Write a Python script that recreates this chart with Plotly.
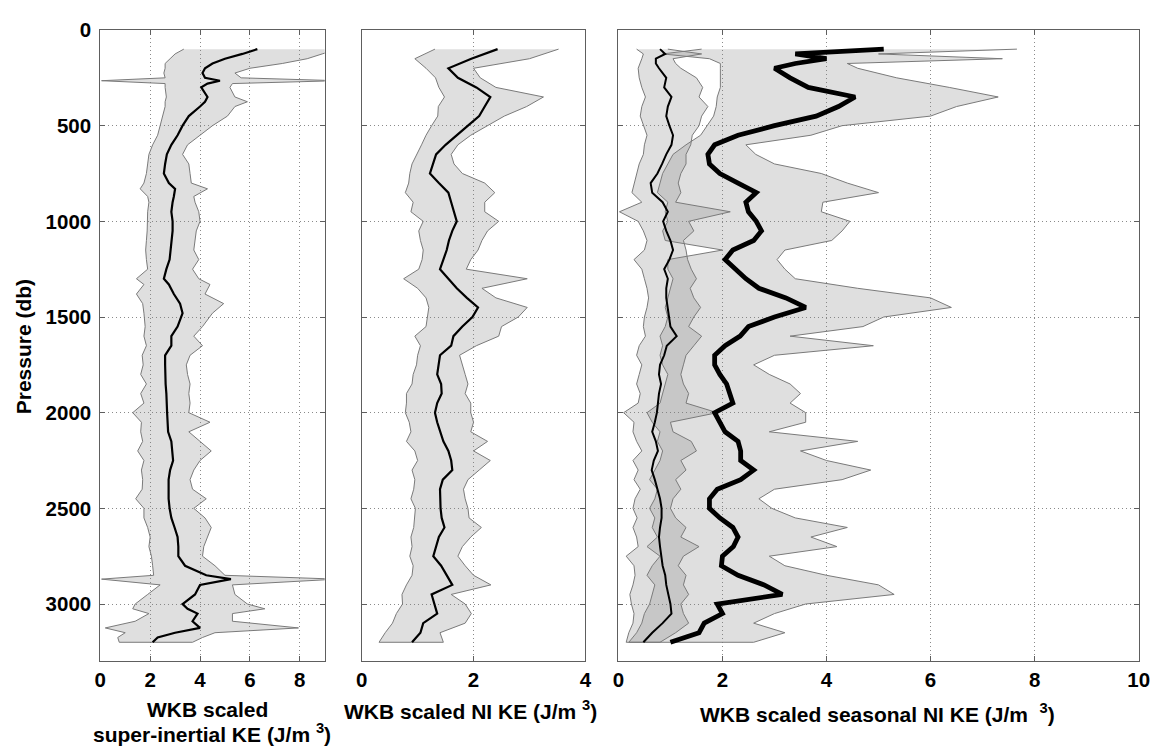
import plotly.graph_objects as go

# ---------------- data ----------------
# Panel 1: WKB scaled super-inertial KE (J/m^3) vs pressure (db)
pres_si = [100, 125, 150, 175, 200, 225, 250, 265, 280, 300,
           350, 375, 400, 450, 500, 550, 600, 650, 700, 750,
           800, 830, 870, 900, 950, 1000, 1050, 1100, 1150, 1200,
           1250, 1300, 1330, 1380, 1430, 1480, 1550, 1600, 1650, 1700,
           1750, 1800, 1850, 1900, 1950, 2000, 2050, 2100, 2150, 2200,
           2250, 2300, 2350, 2400, 2450, 2500, 2550, 2600, 2650, 2700,
           2750, 2800, 2850, 2870, 2900, 2950, 3000, 3025, 3050, 3090,
           3125, 3150, 3175, 3200]
si_mean = [6.3, 5.7, 5.0, 4.5, 4.2, 4.1, 4.2, 4.8, 4.3, 4.05,
           4.3, 4.2, 4.0, 3.55, 3.3, 3.1, 2.85, 2.67, 2.6, 2.55,
           2.75, 3.0, 2.95, 2.9, 2.85, 2.9, 2.9, 2.85, 2.8, 2.78,
           2.65, 2.55, 2.75, 2.95, 3.2, 3.3, 3.1, 2.85, 2.85, 2.6,
           2.6, 2.6, 2.62, 2.65, 2.65, 2.68, 2.7, 2.72, 2.85, 2.88,
           2.92, 2.8, 2.74, 2.74, 2.74, 2.78, 2.85, 2.98, 3.1, 3.13,
           3.13, 3.4, 4.25, 5.24, 4.0, 3.8, 3.3, 3.5, 3.9, 3.7,
           4.0, 3.0, 2.3, 2.1]
si_low = [3.35, 3.0, 2.8, 2.6, 2.6, 2.55, 2.6, 0.05, 2.6, 2.6,
          2.65, 2.6, 2.6, 2.5, 2.4, 2.3, 2.1, 1.95, 1.9, 1.85,
          1.75, 1.6, 1.9, 1.95, 1.9, 1.9, 1.88, 1.85, 1.82, 1.85,
          1.9, 1.45, 1.75, 1.45, 1.7, 1.75, 1.8, 1.75, 1.85, 1.68,
          1.72, 1.62, 1.85, 1.62, 1.75, 1.3, 1.65, 1.62, 1.7, 1.5,
          1.75, 1.65, 1.7, 1.68, 1.42, 1.75, 1.75, 1.9, 2.0, 1.95,
          2.05, 2.1, 2.14, 0.05, 2.4, 1.9, 1.4, 1.3, 1.95, 1.4,
          0.2, 1.0, 0.7, 0.76]
si_high = [9.5, 8.9, 8.3, 7.3, 6.0, 5.4, 5.65, 9.5, 5.3, 5.2,
           5.4, 5.9, 5.4, 5.1, 4.5, 4.0, 3.5, 3.3, 3.55, 3.6,
           3.65, 4.3, 3.75, 3.8, 3.95, 4.0, 3.85, 3.8, 3.75, 3.95,
           3.7, 3.95, 4.4, 4.2, 4.95, 4.5, 4.1, 3.75, 4.1, 3.6,
           3.45, 3.5, 3.6, 3.55, 3.6, 3.55, 4.4, 3.55, 4.0, 4.45,
           4.0, 3.75, 3.6, 3.7, 4.25, 3.75, 4.2, 4.45, 4.3, 4.15,
           4.1, 4.6, 5.0, 9.5, 5.3, 5.4, 5.9, 6.6, 5.3, 5.3,
           7.95, 4.6, 4.1, 3.7]

# Panel 2: WKB scaled NI KE (J/m^3)
pres_ni = [100, 150, 200, 250, 300, 350, 400, 450, 500, 550,
           600, 650, 700, 750, 800, 850, 900, 950, 1000, 1050,
           1100, 1150, 1200, 1250, 1300, 1350, 1400, 1450, 1500, 1550,
           1600, 1650, 1700, 1750, 1800, 1850, 1900, 1950, 2000, 2050,
           2100, 2150, 2200, 2250, 2300, 2350, 2400, 2450, 2500, 2550,
           2600, 2650, 2700, 2750, 2800, 2850, 2900, 2950, 3000, 3050,
           3100, 3150, 3200]
ni_mean = [2.43, 1.96, 1.55, 1.72, 2.05, 2.3, 2.2, 2.1, 1.9, 1.7,
           1.5, 1.33, 1.28, 1.22, 1.38, 1.55, 1.6, 1.65, 1.7, 1.62,
           1.56, 1.52, 1.46, 1.4, 1.55, 1.7, 1.88, 2.08, 1.98, 1.8,
           1.64, 1.6, 1.4, 1.37, 1.35, 1.42, 1.43, 1.35, 1.31, 1.35,
           1.4, 1.46, 1.55, 1.6, 1.62, 1.45, 1.4, 1.4, 1.41, 1.43,
           1.48, 1.38, 1.33, 1.28, 1.42, 1.52, 1.62, 1.25, 1.3, 1.35,
           1.1, 1.05, 0.9]
ni_low = [1.31, 0.95, 1.15, 1.32, 1.38, 1.48, 1.37, 1.36, 1.25, 1.15,
          1.07, 0.98, 0.9, 0.86, 0.84, 0.78, 0.92, 0.88, 1.1, 1.02,
          1.05, 1.1, 1.08, 1.02, 0.75, 1.0, 1.15, 1.2, 1.18, 1.15,
          0.95, 1.05, 1.0, 0.98, 0.92, 0.9, 0.8, 0.8, 0.78, 0.85,
          0.88, 0.8, 0.95, 1.0, 0.9, 0.95, 0.93, 0.88, 0.96, 0.95,
          0.93, 0.88, 0.9, 0.86, 0.92, 0.9, 0.8, 0.72, 0.73, 0.62,
          0.55, 0.42, 0.31]
ni_high = [3.52, 3.0, 2.0, 2.12, 2.4, 3.25, 2.95, 2.55, 2.25, 1.95,
           1.72, 1.6, 1.65, 1.8, 2.2, 2.38, 2.2, 2.2, 2.45, 2.25,
           2.15, 2.08, 1.95, 1.87, 2.96, 2.15, 2.4, 2.96, 2.8, 2.5,
           2.45, 2.05, 1.75, 1.8, 1.85, 1.9, 1.85, 1.95, 1.95, 2.0,
           1.95, 2.25, 2.0, 2.3, 2.1, 1.9, 1.82, 1.85, 1.9, 1.92,
           2.14, 1.95, 1.8, 1.72, 1.85, 2.0, 2.31, 1.6, 1.85, 1.96,
           1.85, 1.4, 1.46]

# Panel 3: WKB scaled seasonal NI KE (J/m^3), two seasons
pres_sea = [100, 125, 150, 175, 200,
            250, 300, 350, 400, 450, 500, 550, 600, 650, 700,
            750, 800, 850, 900, 950, 1000, 1050, 1100, 1150, 1200,
            1250, 1300, 1350, 1400, 1450, 1500, 1550, 1600, 1650, 1700,
            1750, 1800, 1850, 1900, 1950, 2000, 2050, 2100, 2150, 2200,
            2250, 2300, 2350, 2400, 2450, 2500, 2550, 2600, 2650, 2700,
            2750, 2800, 2850, 2900, 2950, 3000, 3050, 3100, 3150, 3200]
weak_mean = [0.8, 0.9, 0.72, 0.72, 0.78,
             0.92, 0.88, 1.02, 0.95, 0.92, 0.98, 1.05, 1.02, 0.92, 0.84,
             0.75, 0.62, 0.65, 0.85, 0.95, 0.86, 0.92, 1.0, 1.05, 0.98,
             0.88, 0.95, 0.92, 0.92, 0.95, 0.98, 1.0, 1.12, 0.93, 0.88,
             0.8, 0.78, 0.82, 0.78, 0.76, 0.74, 0.7, 0.65, 0.72, 0.76,
             0.68, 0.64, 0.7, 0.75, 0.8, 0.83, 0.83, 0.8, 0.78, 0.8,
             0.82, 0.85, 0.9, 0.92, 0.96, 1.0, 1.02, 0.85, 0.65, 0.48]
weak_low = [0.35, 0.48, 0.45, 0.42, 0.38,
            0.4, 0.45, 0.52, 0.45, 0.42, 0.48, 0.55, 0.5, 0.48, 0.4,
            0.35, 0.3, 0.26, 0.45, 0.02, 0.38, 0.48, 0.55, 0.5, 0.3,
            0.45, 0.5, 0.55, 0.58, 0.55, 0.5, 0.48, 0.52, 0.4, 0.35,
            0.45, 0.4, 0.35, 0.42, 0.38, 0.1, 0.3, 0.28, 0.35, 0.45,
            0.28, 0.38, 0.3, 0.42, 0.32, 0.28, 0.36, 0.28, 0.35, 0.38,
            0.15, 0.3, 0.32, 0.28, 0.22, 0.25, 0.3, 0.28, 0.2, 0.15]
weak_high = [0.95, 1.6, 1.05, 1.1, 1.2,
             1.5, 1.62, 1.55, 1.72, 1.6, 1.55, 1.42, 1.39, 1.3, 1.3,
             1.2, 1.15, 1.2, 1.1, 2.15, 1.35, 1.45, 1.25, 1.3, 1.33,
             1.4, 1.5, 1.38, 1.45, 1.58, 1.45, 1.35, 1.6, 1.45, 1.3,
             1.25, 1.2, 1.25, 1.35, 1.3, 1.9, 1.0, 1.05, 1.4, 1.5,
             1.2, 1.3, 1.1, 1.2, 1.05, 1.0, 1.1, 1.3, 1.2, 1.55,
             1.25, 1.15, 1.3, 1.25, 1.35, 1.2, 1.25, 1.35, 1.1, 0.8]
strong_mean = [5.1, 3.4, 4.0, 3.4, 3.0,
               3.3, 3.65, 4.55, 4.23, 3.8, 3.0, 2.3, 1.85, 1.72, 1.75,
               1.95, 2.3, 2.65, 2.45, 2.5, 2.65, 2.75, 2.6, 2.2, 2.05,
               2.25, 2.45, 2.7, 3.22, 3.6, 3.0, 2.5, 2.34, 2.05, 1.85,
               1.85, 1.95, 2.08, 2.15, 2.2, 1.85, 1.95, 2.05, 2.3, 2.35,
               2.35, 2.6, 2.35, 1.9, 1.75, 1.75, 1.95, 2.2, 2.3, 2.21,
               2.0, 1.98, 2.3, 2.8, 3.15, 1.9, 2.0, 1.65, 1.55, 1.0]
strong_low = [1.6, 0.85, 1.75, 1.96, 1.96,
              1.96, 1.96, 1.9, 1.88, 1.83, 1.7, 1.58, 1.3, 1.05, 0.95,
              0.85, 0.8, 0.75, 0.95, 0.9, 0.95, 0.85, 0.9, 2.0, 0.95,
              0.95, 1.05, 1.0, 0.95, 0.9, 0.95, 0.9, 0.8, 0.85, 0.8,
              0.85, 0.95, 0.9, 0.85, 0.8, 0.55, 0.65, 0.8, 0.75, 0.85,
              0.8, 0.7, 0.6, 0.75, 0.7, 0.6, 0.7, 0.65, 0.75, 0.55,
              0.8, 0.65, 0.55, 0.7, 0.65, 0.6, 0.5, 0.45, 0.35, 0.2]
strong_high = [7.66, 5.0, 7.38, 4.4, 4.6,
               5.35, 6.36, 7.3, 6.5, 6.0, 4.3, 3.7, 2.45, 2.64, 3.0,
               3.9, 4.4, 5.0, 3.93, 3.9, 4.45, 4.3, 4.1, 3.2, 3.05,
               3.2, 3.4, 4.6, 6.0, 6.4, 5.1, 4.7, 3.3, 4.9, 3.0,
               2.6, 2.9, 3.3, 3.5, 3.3, 3.6, 3.6, 2.9, 4.6, 3.5,
               4.0, 4.85, 4.3, 3.0, 2.7, 2.95, 3.4, 4.4, 3.7, 4.2,
               2.9, 3.2, 4.0, 5.0, 5.3, 3.6, 3.0, 2.6, 3.2, 2.6]

y_ticks = [0, 500, 1000, 1500, 2000, 2500, 3000]
x_ticks_si = [0, 2, 4, 6, 8]
x_ticks_ni = [0, 2, 4]
x_ticks_sea = [0, 2, 4, 6, 8, 10]

# ---------------- figure ----------------
W, H = 1161, 748
FONT = "Liberation Sans, Arial, Helvetica, sans-serif"
BAND_FILL = "rgba(128,128,128,0.25)"
BAND_EDGE = "#7a7a7a"
FRAME = "#5e5e5e"

fig = go.Figure()


def add_band(p, lo, hi, xa, ya):
    assert len(p) == len(lo) == len(hi)
    fig.add_trace(go.Scatter(
        x=list(lo) + list(hi)[::-1], y=list(p) + list(p)[::-1],
        mode="lines", fill="toself", fillcolor=BAND_FILL,
        line=dict(color=BAND_EDGE, width=1),
        xaxis=xa, yaxis=ya, hoverinfo="skip", showlegend=False))


def add_line(p, v, xa, ya, width):
    assert len(p) == len(v)
    fig.add_trace(go.Scatter(
        x=v, y=p, mode="lines", line=dict(color="black", width=width),
        xaxis=xa, yaxis=ya, hoverinfo="skip", showlegend=False))


add_band(pres_si, si_low, si_high, "x", "y")
add_line(pres_si, si_mean, "x", "y", 2.2)

add_band(pres_ni, ni_low, ni_high, "x2", "y2")
add_line(pres_ni, ni_mean, "x2", "y2", 2.2)

add_band(pres_sea, strong_low, strong_high, "x3", "y3")
add_band(pres_sea, weak_low, weak_high, "x3", "y3")
add_line(pres_sea, weak_mean, "x3", "y3", 2.0)
add_line(pres_sea, strong_mean, "x3", "y3", 4.8)


def px_x(v):
    return v / W


def px_y(v):
    return 1 - v / H


y_dom = [px_y(660), px_y(18.3)]
tick_font = dict(family=FONT, size=20.5, color="black", weight="bold")

common_axis = dict(
    showline=True, linecolor=FRAME, linewidth=1, mirror="ticks",
    ticks="inside", ticklen=5, tickcolor=FRAME, tickwidth=1,
    showgrid=True, gridcolor="#8a8a8a", gridwidth=1, griddash="1px,3px",
    zeroline=False, tickfont=tick_font,
)

x_specs = [
    ("xaxis", "y", [95.7, 323.4], [0, 9], x_ticks_si),
    ("xaxis2", "y2", [361, 588], [0, 4], x_ticks_ni),
    ("xaxis3", "y3", [621.5, 1149.5], [0, 10], x_ticks_sea),
]
for name, anchor, dom, rng, tv in x_specs:
    fig.layout[name] = dict(
        common_axis, domain=[px_x(dom[0]), px_x(dom[1])], range=rng,
        anchor=anchor, tickvals=tv, ticktext=[str(t) for t in tv],
        ticklabelstandoff=0)

for i, name in enumerate(["yaxis", "yaxis2", "yaxis3"]):
    fig.layout[name] = dict(
        common_axis, domain=y_dom, range=[3300, 0],
        anchor=["x", "x2", "x3"][i], tickvals=y_ticks,
        ticktext=[str(t) for t in y_ticks],
        showticklabels=(i == 0), ticklabelstandoff=4)

title_font = dict(family=FONT, size=21, color="black", weight="bold")
titles = [
    ("WKB scaled", 205, 709),
    ("super-inertial KE (J/m <sup>3</sup>)", 209, 733),
    ("WKB scaled NI KE (J/m <sup>3</sup>)", 471, 709),
    ("WKB scaled seasonal NI KE (J/m  <sup>3</sup>)", 884, 712),
]
annotations = [
    dict(text=t, x=px_x(x), y=px_y(y), xref="paper", yref="paper",
         xanchor="center", yanchor="middle", showarrow=False, font=title_font)
    for t, x, y in titles
]
annotations.append(dict(
    text="Pressure (db)", x=px_x(18), y=px_y(340), xref="paper", yref="paper",
    xanchor="center", yanchor="middle", showarrow=False, textangle=-90,
    font=title_font))

fig.update_layout(
    width=W, height=H, margin=dict(l=0, r=0, t=0, b=0),
    paper_bgcolor="white", plot_bgcolor="white",
    annotations=annotations, showlegend=False,
)

fig.write_html("out.html")
